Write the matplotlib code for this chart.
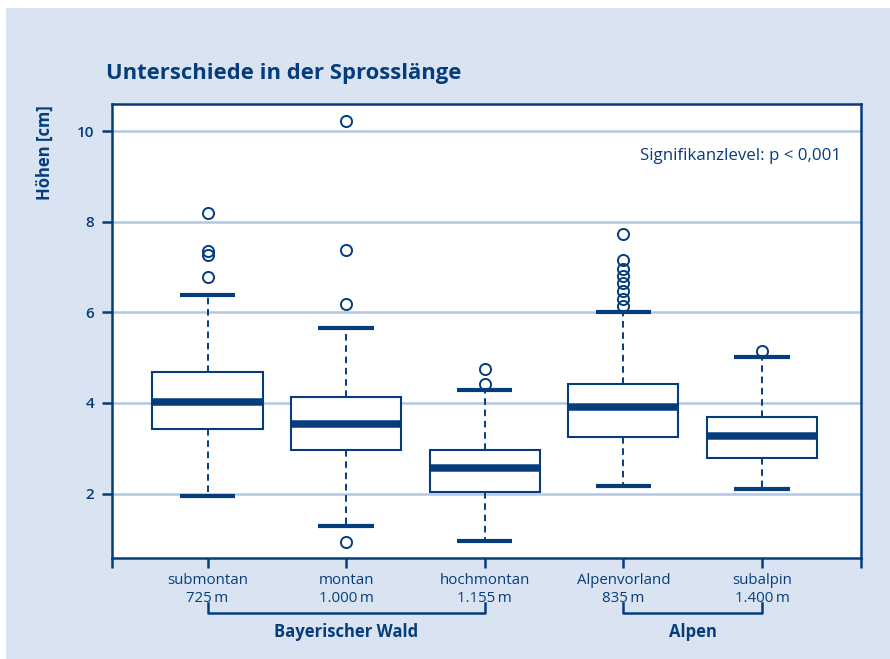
import matplotlib.pyplot as plt
from matplotlib.transforms import blended_transform_factory

# Werte
sites = ['submontan', 'montan', 'hochmontan', 'Alpenvorland', 'subalpin']
elev = ['725\u2009m', '1.000\u2009m', '1.155\u2009m', '835\u2009m', '1.400\u2009m']
med = [4.02, 3.54, 2.57, 3.92, 3.26]
q1 = [3.43, 2.96, 2.04, 3.25, 2.78]
q3 = [4.69, 4.12, 2.96, 4.41, 3.69]
whislo = [1.95, 1.28, 0.95, 2.16, 2.10]
whishi = [6.38, 5.65, 4.28, 6.00, 5.01]
fliers = [
    [6.77, 7.27, 7.35, 8.20],
    [0.93, 6.19, 7.37, 10.22],
    [4.42, 4.75],
    [6.13, 6.30, 6.47, 6.64, 6.80, 6.96, 7.16, 7.72],
    [5.15],
]
groups = ['Bayerischer Wald', 'Alpen']
group_members = [(0, 2), (3, 4)]
yticks = [2, 4, 6, 8, 10]

DARK = '#053d7c'
BG = '#dae3f1'
GRID = '#b3c7e3'

plt.rcParams['font.family'] = ['Open Sans', 'DejaVu Sans']

fig = plt.figure(figsize=(8.9, 6.59), dpi=100)
fig.patch.set_facecolor('white')
# hellblauer Hintergrund mit schmalem weißen Rand links/oben
fig.patches.append(plt.Rectangle((6 / 890, 0), 1, 1 - 8 / 659, transform=fig.transFigure,
                                 facecolor=BG, edgecolor='none', zorder=-10))

ax = fig.add_axes([112 / 890, 1 - 558 / 659, (861 - 112) / 890, (558 - 104) / 659])
ax.set_facecolor('white')

positions = list(range(1, len(sites) + 1))
stats = []
for i in range(len(sites)):
    stats.append(dict(med=med[i], q1=q1[i], q3=q3[i], whislo=whislo[i],
                      whishi=whishi[i], fliers=fliers[i], label=sites[i]))

ax.bxp(stats, positions=positions, widths=0.794, capwidths=0.40, patch_artist=True,
       boxprops=dict(facecolor='white', edgecolor=DARK, linewidth=1.5),
       medianprops=dict(color=DARK, linewidth=5.4, solid_capstyle='butt'),
       whiskerprops=dict(color=DARK, linewidth=1.4, linestyle=(0, (3.4, 2.4))),
       capprops=dict(color=DARK, linewidth=3.0, solid_capstyle='butt'),
       flierprops=dict(marker='o', markersize=8, markerfacecolor='none',
                       markeredgecolor=DARK, markeredgewidth=1.4),
       zorder=3)

ax.set_xlim(0.311, 5.714)
ax.set_ylim(0.576, 10.60)

for y in yticks:
    ax.axhline(y, color=GRID, linewidth=1.8, zorder=1)

ax.set_yticks(yticks)
ax.set_yticklabels([str(y) for y in yticks], fontsize=11, fontweight='semibold', color=DARK)
xlo, xhi = ax.get_xlim()
ax.set_xticks([xlo] + positions + [xhi])
ax.set_xticklabels([''] + [s + '\n' + e for s, e in zip(sites, elev)] + [''],
                   fontsize=10.8, color=DARK, linespacing=1.25)
ax.tick_params(axis='both', direction='out', length=7, width=1.8, color=DARK, pad=4)
ax.tick_params(axis='y', pad=6)

for sp in ax.spines.values():
    sp.set_color(DARK)
    sp.set_linewidth(1.8)

ax.set_ylabel('Höhen [cm]', fontsize=12, fontweight='bold', color=DARK)
ax.yaxis.set_label_coords(-0.077, 0.892)

ax.text(-0.008, 1.045, 'Unterschiede in der Sprosslänge', transform=ax.transAxes,
        fontsize=15.8, fontweight='bold', color=DARK, ha='left', va='bottom')
ax.text(0.974, 0.885, 'Signifikanzlevel: p < 0,001', transform=ax.transAxes,
        fontsize=12.2, color=DARK, ha='right', va='center')

# Klammern für die Regionen
trans = blended_transform_factory(ax.transData, ax.transAxes)
for name, (a, b) in zip(groups, group_members):
    xa, xb = positions[a], positions[b]
    ax.plot([xa, xa, xb, xb], [-0.100, -0.121, -0.121, -0.100], transform=trans,
            color=DARK, linewidth=1.8, clip_on=False)
    ax.text((xa + xb) / 2, -0.163, name, transform=trans, ha='center', va='center',
            fontsize=12, fontweight='bold', color=DARK)

fig.savefig('out.png', dpi=100, facecolor=fig.get_facecolor())
